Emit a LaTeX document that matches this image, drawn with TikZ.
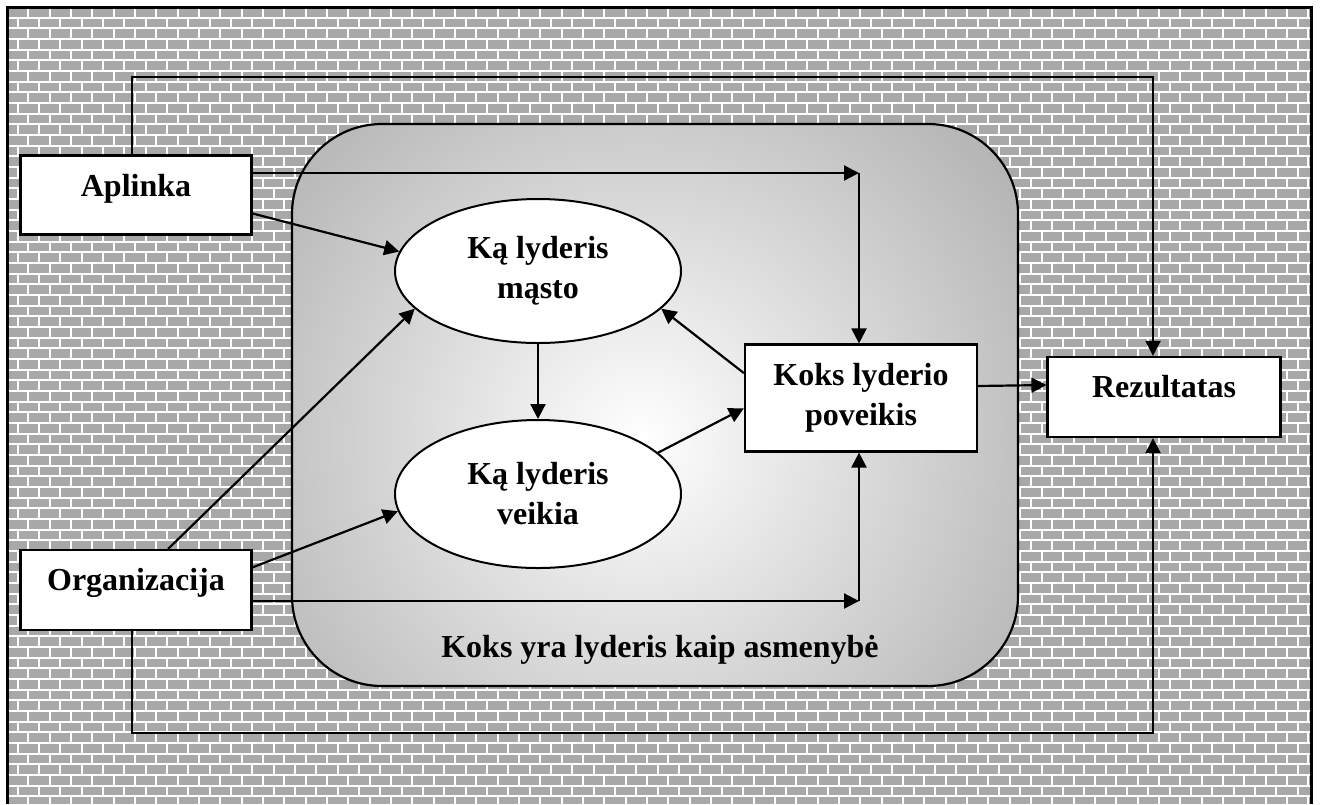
\documentclass[tikz,border=0pt]{standalone}
\usepackage{fontspec}
\setmainfont{Liberation Serif}
\usetikzlibrary{shapes.geometric, arrows.meta, positioning, calc}
\definecolor{brickgray}{RGB}{168,168,168}
\definecolor{zonegray}{RGB}{170,170,170}

\tikzset{
  block/.style={draw, fill=white, line width=1.1pt, inner sep=0pt,
    font=\bfseries\fontsize{16}{20}\selectfont},
  thought/.style={ellipse, draw, fill=white, line width=1pt, inner sep=0pt,
    minimum width=143pt, minimum height=72pt, align=center,
    font=\bfseries\fontsize{16}{20}\selectfont},
  link/.style={line width=1.1pt, -{Triangle[length=7.5pt, width=7.5pt]}},
}

\begin{document}
\begin{tikzpicture}[x=0.5pt, y=-0.5pt]
        \useasboundingbox (0,0) rectangle (1320,804);

        % Brick wall
        \fill[brickgray] (7,7) rectangle (1311,804);
        \begin{scope}
            \clip (7,7) rectangle (1311,804);
            \draw[white, line width=0.9pt]
                \foreach \r [evaluate=\r as \y using 7+\r*10.667,
                             evaluate=\r as \s using {mod(\r,2)*10.667}] in {0,...,74} {
                    (7,\y) -- (1311,\y)
                    \foreach \c [evaluate=\c as \x using 7+\c*21.333+\s] in {0,...,61} {
                        (\x,\y) -- (\x,\y+10.667)
                    }
                };
        \end{scope}
        \draw[line width=1.5pt] (7,804) -- (7,7) -- (1311,7) -- (1311,804);

        % Leader as a person
        \begin{scope}
            \clip[rounded corners=45pt] (292,124) rectangle (1018,686);
            \fill[zonegray] (292,124) rectangle (1018,686);
            \shade[inner color=white, outer color=zonegray] (640,440) circle (520);
        \end{scope}
        \draw[line width=1.1pt, rounded corners=45pt] (292,124) rectangle (1018,686);

        % Nodes
        \node[block, minimum width=115.5pt, minimum height=39.5pt, text height=10pt, text depth=8.5pt] (aplinka) at (136,195) {Aplinka};
        \node[block, minimum width=115.5pt, minimum height=40pt, text height=10pt, text depth=10pt] (organizacija) at (136,590) {Organizacija};
        \node[thought] (masto) at (538,271) {Ką lyderis\\mąsto};
        \node[thought, minimum height=74pt] (veikia) at (538,494) {Ką lyderis\\veikia};
        \node[block, align=center, minimum width=116pt, minimum height=53.5pt] (poveikis) at (861,398) {Koks lyderio\\poveikis};
        \node[block, minimum width=116.5pt, minimum height=40pt, text height=10pt, text depth=10pt] (rezultatas) at (1164,397) {Rezultatas};
        \node[font=\bfseries\fontsize{16}{20}\selectfont] (asmenybe) at (660,650) {Koks yra lyderis kaip asmenybė};

        % Corner points
        \coordinate (topL) at (132,77);
        \coordinate (topR) at (1153,77);
        \coordinate (botL) at (132,733);
        \coordinate (botR) at (1153,733);
        \coordinate (aplJ) at (859,173);
        \coordinate (orgJ) at (859,601);

        % Outer loops
        \draw[link] (topL |- aplinka.north) -- (topL) -- (topR) -- (topR |- rezultatas.north);
        \draw[link] (botL |- organizacija.south) -- (botL) -- (botR) -- (botR |- rezultatas.south);

        % Direct paths
        \draw[link] (aplJ -| aplinka.east) -- (aplJ);
        \draw[link] (aplJ) -- (aplJ |- poveikis.north);
        \draw[link] (orgJ -| organizacija.east) -- (orgJ);
        \draw[link] (orgJ) -- (orgJ |- poveikis.south);

        % Inner arrows
        \draw[link] (aplinka.-9) -- (masto.172);
        \draw[link] (organizacija.52) -- (masto.197);
        \draw[link] (organizacija.11) -- (veikia.187);
        \draw[link] (masto.south) -- (veikia.north);
        \draw[link] (veikia.19) -- (poveikis.185);
        \draw[link] (poveikis.168) -- (masto.-17);
        \draw[link] ([yshift=6pt]poveikis.east) -- ([yshift=6pt]rezultatas.west);
    \end{tikzpicture}
\end{document}
